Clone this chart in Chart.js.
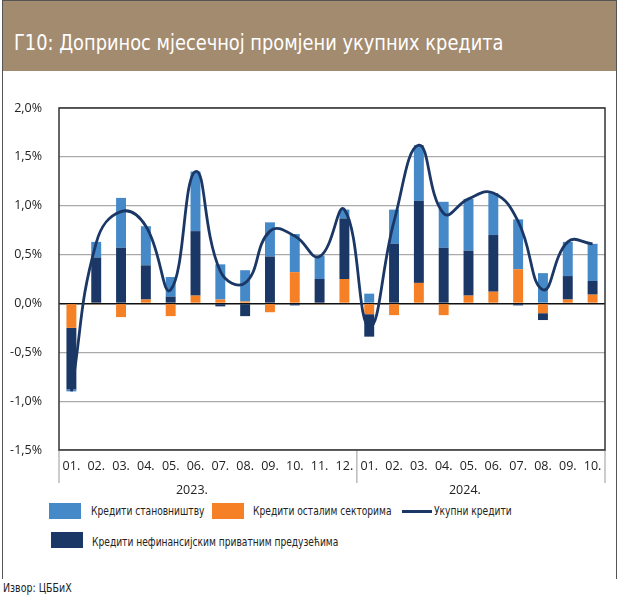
<!DOCTYPE html>
<html lang="sr">
  <head>
    <meta charset="UTF-8" />
    <title>Г10</title>
    <script src="https://cdn.jsdelivr.net/npm/chart.js@4"></script>
    <style>
      body { margin: 0; width: 620px; height: 595px; background: #fff; position: relative; overflow: hidden;
             font-family: "DejaVu Sans Condensed", "Open Sans", sans-serif; color: #222; }
      .frame { position: absolute; left: 2px; top: 0; width: 613px; height: 578px;
               border: 1px solid #555; border-bottom: none; }
      .title { position: absolute; left: 0; top: 0; width: 613px; height: 70px; background: #a38b70; }
      .title span { position: absolute; left: 11px; top: 29px; font-size: 22px; color: #fff; white-space: nowrap;
                    transform: scaleX(0.9); transform-origin: left center; }
      #wrap { position: absolute; left: 0; top: 80px; width: 620px; height: 420px; }
      .lg { position: absolute; font-size: 13px; white-space: nowrap; transform: scaleX(0.78); transform-origin: left center; }
      .box { position: absolute; width: 32px; height: 16px; }
      .src { position: absolute; left: 3px; top: 580px; font-size: 13px; transform: scaleX(0.81); transform-origin: left center; }
    </style>
  </head>
  <body>
    <div class="frame">
      <div class="title"><span>Г10: Допринос мјесечној промјени укупних кредита</span></div>
    </div>
    <div id="wrap"><canvas id="chart"></canvas></div>

    <div class="box" style="left: 49px; top: 503px; background: #4589c8"></div>
    <div class="lg" style="left: 91px; top: 503px">Кредити становништву</div>
    <div class="box" style="left: 212px; top: 503px; background: #f58025"></div>
    <div class="lg" style="left: 253px; top: 503px">Кредити осталим секторима</div>
    <div class="box" style="left: 402px; top: 510px; width: 30px; height: 3px; background: #1b3765"></div>
    <div class="lg" style="left: 434px; top: 503px">Укупни кредити</div>
    <div class="box" style="left: 51px; top: 532px; background: #1b3765"></div>
    <div class="lg" style="left: 92px; top: 534px">Кредити нефинансијским приватним предузећима</div>
    <div class="src">Извор: ЦББиХ</div>

    <script>
      const months = ["01.", "02.", "03.", "04.", "05.", "06.", "07.", "08.", "09.", "10.", "11.", "12.",
                      "01.", "02.", "03.", "04.", "05.", "06.", "07.", "08.", "09.", "10."];
      const years = ["2023.", "2024."];
      const yearCounts = [12, 10];

      // % doprinos
      const households = [-0.02, 0.16, 0.51, 0.40, 0.20, 0.61, 0.36, 0.32, 0.35, 0.39, 0.24, 0.09,
                          0.10, 0.35, 0.57, 0.47, 0.53, 0.43, 0.51, 0.31, 0.35, 0.38];
      const otherSectors = [-0.25, -0.01, -0.14, 0.04, -0.13, 0.08, 0.04, 0.02, -0.09, 0.32, -0.01, 0.25,
                            -0.11, -0.12, 0.21, -0.12, 0.08, 0.12, 0.35, -0.10, 0.04, 0.09];
      const companies = [-0.63, 0.47, 0.57, 0.35, 0.07, 0.66, -0.03, -0.13, 0.48, -0.02, 0.25, 0.62,
                         -0.23, 0.61, 0.84, 0.57, 0.46, 0.58, -0.02, -0.07, 0.24, 0.14];
      const totalLoans = [-0.90, 0.62, 0.94, 0.79, 0.14, 1.35, 0.33, 0.21, 0.74, 0.69, 0.48, 0.96,
                          -0.24, 0.84, 1.62, 0.92, 1.07, 1.13, 0.84, 0.14, 0.63, 0.61];

      const tickFont = { family: "'Open Sans', 'Noto Sans', sans-serif", size: 12.5 };

      const frameAndYears = {
        id: "frameAndYears",
        afterDraw(chart) {
          const { ctx, chartArea: a, scales: { x } } = chart;
          ctx.save();
          // separators under the axis
          ctx.strokeStyle = "#bbb";
          ctx.lineWidth = 1.5;
          let start = 0;
          const edges = [a.left];
          yearCounts.forEach((n) => {
            start += n;
            if (start < months.length) {
              edges.push((x.getPixelForValue(start - 1) + x.getPixelForValue(start)) / 2);
            }
          });
          edges.push(a.right);
          edges.forEach((ex) => {
            ctx.beginPath();
            ctx.moveTo(ex, a.bottom);
            ctx.lineTo(ex, a.bottom + 33);
            ctx.stroke();
          });
          // year labels
          ctx.fillStyle = "#222";
          ctx.font = "12.5px 'Open Sans', 'Noto Sans', sans-serif";
          ctx.textAlign = "center";
          ctx.textBaseline = "middle";
          years.forEach((yr, i) => {
            ctx.fillText(yr, (edges[i] + edges[i + 1]) / 2 - 16, a.bottom + 40);
          });
          // plot border
          ctx.strokeStyle = "#333";
          ctx.lineWidth = 1.5;
          ctx.strokeRect(a.left, a.top, a.right - a.left, a.bottom - a.top);
          ctx.restore();
        }
      };

      new Chart(document.getElementById("chart"), {
        data: {
          labels: months,
          datasets: [
            {
              type: "line",
              label: "Укупни кредити",
              data: totalLoans,
              borderColor: "#1b3765",
              borderWidth: 2.8,
              pointRadius: 0,
              tension: 0.45,
              stack: "total",
              order: 0
            },
            {
              type: "bar",
              label: "Кредити осталим секторима",
              data: otherSectors,
              backgroundColor: "#f58025",
              stack: "parts",
              order: 1
            },
            {
              type: "bar",
              label: "Кредити нефинансијским приватним предузећима",
              data: companies,
              backgroundColor: "#1b3765",
              stack: "parts",
              order: 1
            },
            {
              type: "bar",
              label: "Кредити становништву",
              data: households,
              backgroundColor: "#4589c8",
              stack: "parts",
              order: 1
            }
          ]
        },
        options: {
          responsive: true,
          maintainAspectRatio: false,
          animation: false,
          datasets: { bar: { categoryPercentage: 1, barPercentage: 0.4 } },
          layout: { padding: { left: 0, right: 15, top: 28, bottom: 0 } },
          plugins: { legend: { display: false }, tooltip: { enabled: false } },
          scales: {
            x: {
              stacked: true,
              grid: { display: false, drawTicks: false },
              border: { display: false },
              ticks: { color: "#222", font: tickFont, padding: 9, maxRotation: 0, autoSkip: false },
              afterFit: (s) => { s.height = 50; }
            },
            y: {
              stacked: true,
              min: -1.5,
              max: 2.0,
              grid: {
                drawTicks: false,
                color: (c) => (c.tick.value === 0 ? "#111" : "#aaa"),
                lineWidth: (c) => (c.tick.value === 0 ? 1.5 : 1.2)
              },
              border: { display: false },
              ticks: {
                stepSize: 0.5,
                color: "#222",
                font: tickFont,
                padding: 17,
                callback: (v) => v.toFixed(1).replace(".", ",") + "%"
              },
              afterFit: (s) => { s.width = 59; }
            }
          }
        },
        plugins: [frameAndYears]
      });
    </script>
  </body>
</html>
